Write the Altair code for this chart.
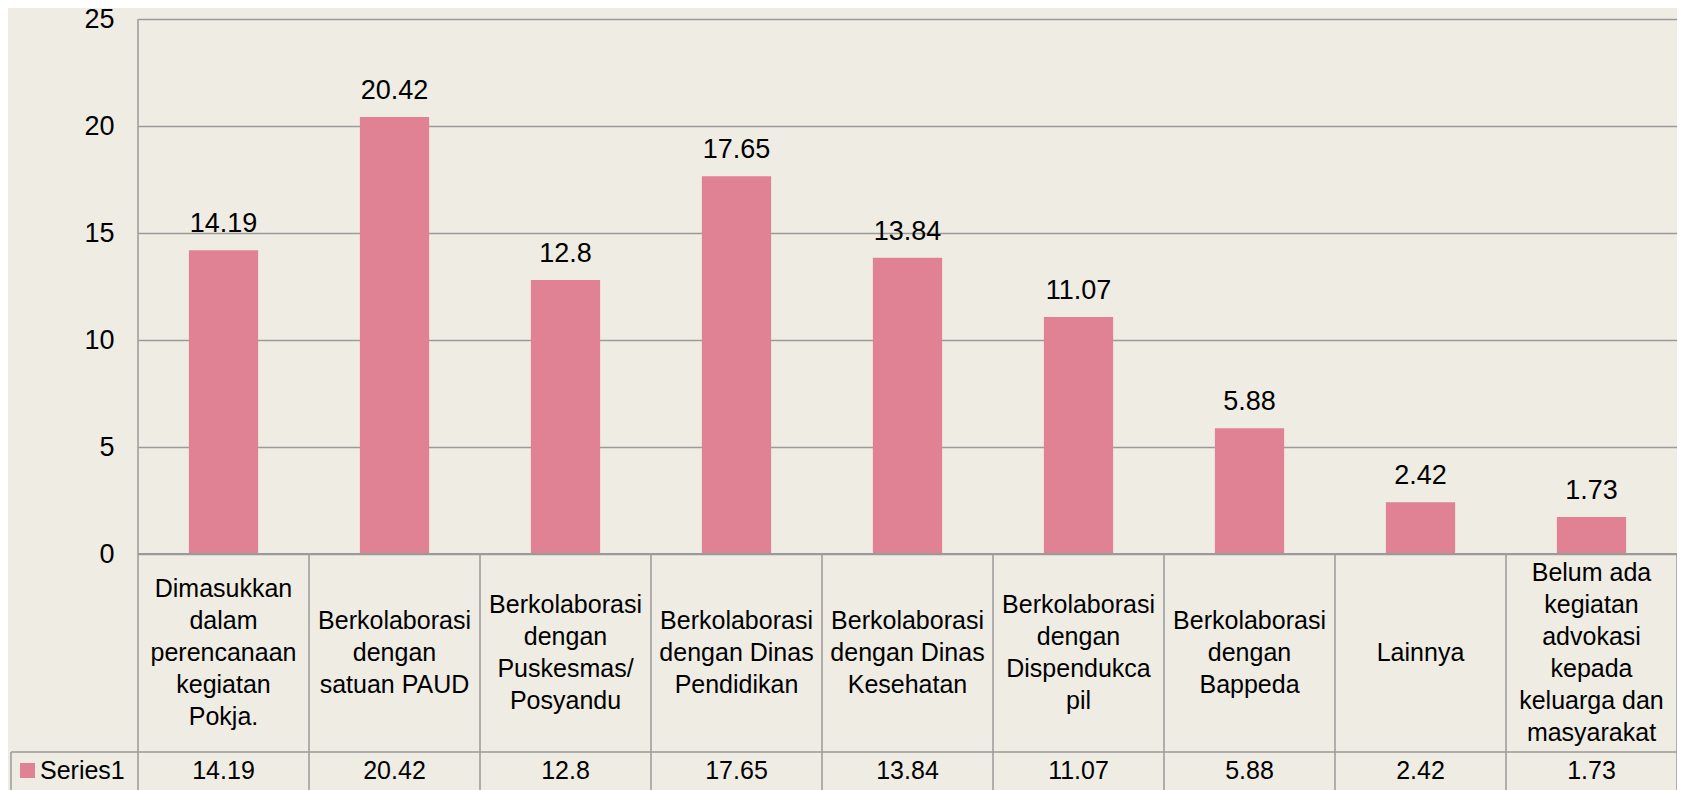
import altair as alt
import pandas as pd

# ---- data ----
keys = ["c1", "c2", "c3", "c4", "c5", "c6", "c7", "c8", "c9"]
categories = [
    "Dimasukkan\ndalam\nperencanaan\nkegiatan\nPokja.",
    "Berkolaborasi\ndengan\nsatuan PAUD",
    "Berkolaborasi\ndengan\nPuskesmas/\nPosyandu",
    "Berkolaborasi\ndengan Dinas\nPendidikan",
    "Berkolaborasi\ndengan Dinas\nKesehatan",
    "Berkolaborasi\ndengan\nDispendukca\npil",
    "Berkolaborasi\ndengan\nBappeda",
    "Lainnya",
    "Belum ada\nkegiatan\nadvokasi\nkepada\nkeluarga dan\nmasyarakat",
]
values = [14.19, 20.42, 12.8, 17.65, 13.84, 11.07, 5.88, 2.42, 1.73]
value_labels = ["14.19", "20.42", "12.8", "17.65", "13.84", "11.07", "5.88", "2.42", "1.73"]
series_name = ["Series1"]
y_ticks = [0, 5, 10, 15, 20, 25]

# ---- styling ----
FONT = "Liberation Sans"
PINK = "#E08293"
BG = "#EFECE3"
GRID = "#9A9A9A"
W, H = 1539, 535
ROW1, ROW2 = 198, 40
LH = 32

df = pd.DataFrame({"key": keys, "label": categories, "val": values, "txt": value_labels})
one = pd.DataFrame({"name": series_name})

xscale = alt.Scale(paddingInner=0, paddingOuter=0)
x = alt.X("key:N", sort=keys, scale=xscale, axis=None)
y = alt.Y(
    "val:Q",
    scale=alt.Scale(domain=[0, 25], nice=False, zero=True),
    axis=alt.Axis(
        values=y_ticks, grid=True, gridColor=GRID, gridWidth=1.5,
        domain=False, ticks=False, labelFontSize=27, labelPadding=24,
        labelColor="black", labelFont=FONT, title=None,
    ),
)

base = alt.Chart(df)

bars = base.mark_bar(width={"band": 0.405}, color=PINK).encode(x=x, y=y)

labels = base.mark_text(
    dy=-18, baseline="alphabetic", align="center", fontSize=27, font=FONT, color="black"
).encode(x=x, y=y, text="txt:N")

cat_text = base.transform_calculate(
    ty=f"{H + ROW1 / 2} - (length(split(datum.label, '\\n')) - 1) * {LH / 2}"
).mark_text(
    lineBreak="\n", lineHeight=LH, baseline="middle", align="center",
    fontSize=25, font=FONT, color="black",
).encode(x=x, y=alt.Y("ty:Q", scale=None), text="label:N")

val_text = base.mark_text(
    baseline="middle", align="center", fontSize=25, font=FONT, color="black"
).encode(x=x, y=alt.value(H + ROW1 + 19), text="txt:N")

vlines = base.mark_rule(color=GRID, strokeWidth=1.5).encode(
    x=alt.X("key:N", sort=keys, scale=xscale, axis=None, bandPosition=1),
    y=alt.value(H),
    y2=alt.value(H + ROW1 + ROW2 + 5),
)

oc = alt.Chart(one)
left_line = oc.mark_rule(color=GRID, strokeWidth=1.5).encode(
    x=alt.value(0), y=alt.value(0), y2=alt.value(H + ROW1 + ROW2 + 5)
)
axis_line = oc.mark_rule(color=GRID, strokeWidth=2).encode(
    x=alt.value(0), x2=alt.value(W), y=alt.value(H)
)
row_line = oc.mark_rule(color=GRID, strokeWidth=1.5).encode(
    x=alt.value(-127), x2=alt.value(W), y=alt.value(H + ROW1)
)
legend_left = oc.mark_rule(color=GRID, strokeWidth=1.5).encode(
    x=alt.value(-127), y=alt.value(H + ROW1), y2=alt.value(H + ROW1 + ROW2 + 5)
)
legend_sq = oc.mark_square(size=225, color=PINK, opacity=1, filled=True).encode(
    x=alt.value(-110.5), y=alt.value(H + ROW1 + 18.5)
)
legend_txt = oc.mark_text(
    align="left", baseline="middle", fontSize=25, font=FONT, color="black"
).encode(x=alt.value(-98), y=alt.value(H + ROW1 + 19), text="name:N")

chart = alt.layer(
    bars, labels, cat_text, val_text, vlines,
    left_line, axis_line, row_line, legend_left, legend_sq, legend_txt,
).properties(
    width=W, height=H,
    autosize=alt.AutoSizeParams(type="none"),
    padding={"left": 130, "top": 11, "right": 0, "bottom": 240},
    background=BG,
).configure_view(strokeWidth=0)

chart.save("out.html", embed_options={"renderer": "svg", "actions": False})
